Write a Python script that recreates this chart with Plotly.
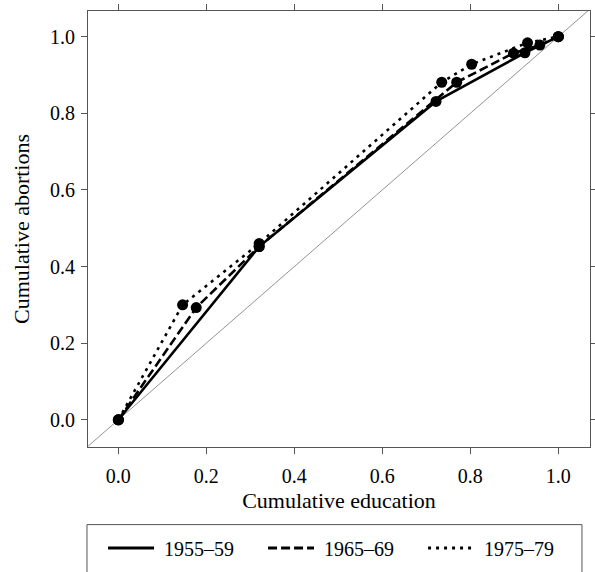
import plotly.graph_objects as go

# Data
series_names = ["1955–59", "1965–69", "1975–79"]
x_1955 = [0.0, 0.32, 0.722, 0.924, 1.0]
y_1955 = [0.0, 0.452, 0.831, 0.958, 1.0]
x_1965 = [0.0, 0.177, 0.32, 0.769, 0.898, 0.958, 1.0]
y_1965 = [0.0, 0.293, 0.452, 0.881, 0.957, 0.978, 1.0]
x_1975 = [0.0, 0.146, 0.32, 0.735, 0.803, 0.93, 1.0]
y_1975 = [0.0, 0.30, 0.46, 0.881, 0.928, 0.984, 1.0]
diag = [-0.2, 1.2]
tick_vals = [0.0, 0.2, 0.4, 0.6, 0.8, 1.0]
tick_text = ["0.0", "0.2", "0.4", "0.6", "0.8", "1.0"]

FONT = "Liberation Serif, Times New Roman, serif"

fig = go.Figure()
fig.add_trace(go.Scatter(x=diag, y=diag, mode="lines",
                         line=dict(color="#777777", width=0.8),
                         showlegend=False, hoverinfo="skip"))

styles = [("solid", x_1955, y_1955), ("9px,4px", x_1965, y_1965), ("3px,5px", x_1975, y_1975)]
for name, (dash, xs, ys) in zip(series_names, styles):
    fig.add_trace(go.Scatter(x=xs, y=ys, mode="lines+markers", name=name,
                             line=dict(color="black", width=2.6, dash=dash),
                             marker=dict(color="black", size=11, symbol="circle"),
                             showlegend=False))
# legend-only entries (line samples without markers, as in the reference)
for name, (dash, xs, ys) in zip(series_names, styles):
    fig.add_trace(go.Scatter(x=[None], y=[None], mode="lines", name="\u00a0" + name,
                             line=dict(color="black", width=3, dash=dash),
                             showlegend=True))

axis_common = dict(showline=True, linecolor="#555555", linewidth=1, mirror="ticks",
                   ticks="outside", ticklen=6, tickcolor="#555555", tickwidth=1,
                   showgrid=False, zeroline=False, tickvals=tick_vals, ticktext=tick_text,
                   automargin=False,
                   tickfont=dict(family=FONT, size=20, color="black"))

fig.update_layout(
    width=595, height=572,
    margin=dict(l=88, r=5, t=11, b=123),
    paper_bgcolor="white", plot_bgcolor="white",
    font=dict(family=FONT, size=20, color="black"),
    xaxis=dict(range=[-0.069, 1.072], ticklabelstandoff=5,
               title=dict(text="Cumulative education", font=dict(family=FONT, size=22), standoff=6), **axis_common),
    yaxis=dict(range=[-0.071, 1.067], ticklabelstandoff=2,
               title=dict(text="Cumulative abortions", font=dict(family=FONT, size=22), standoff=14), **axis_common),
    legend=dict(orientation="h", x=0.03, xanchor="left", y=-0.187, yanchor="top",
                borderwidth=0, bgcolor="rgba(0,0,0,0)",
                font=dict(family=FONT, size=20, color="black"),
                entrywidth=99, entrywidthmode="pixels", itemwidth=46,
                tracegroupgap=0),
    shapes=[dict(type="rect", xref="paper", yref="paper", x0=-0.002, x1=0.984,
                 y0=-0.45, y1=-0.178, line=dict(color="#555555", width=1),
                 fillcolor="rgba(0,0,0,0)", layer="below")],
    showlegend=True,
)

fig.write_html("out.html", config={"displayModeBar": False},
               post_script="document.body.style.margin='0';")
